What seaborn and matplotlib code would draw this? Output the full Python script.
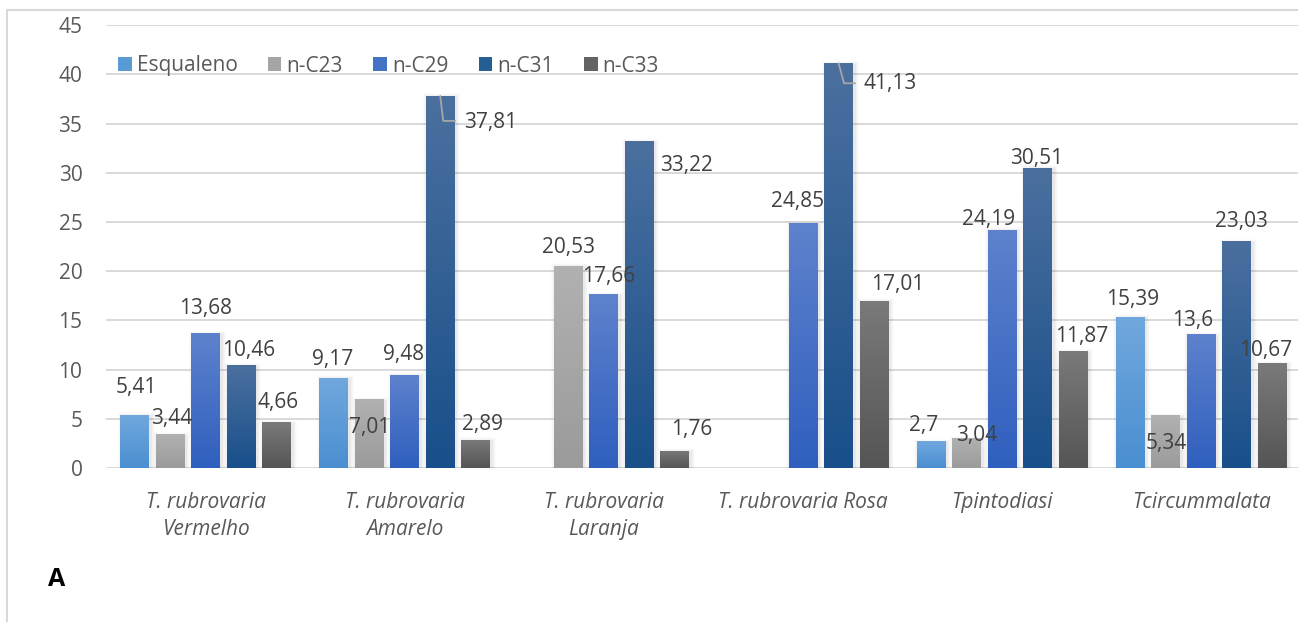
import numpy as np
import pandas as pd
import matplotlib
matplotlib.use("Agg")
import matplotlib.pyplot as plt
import seaborn as sns
from matplotlib.colors import LinearSegmentedColormap
from matplotlib.patches import Rectangle
from matplotlib.lines import Line2D

# ---- data -----------------------------------------------------------------
species = ["T. rubrovaria\nVermelho", "T. rubrovaria\nAmarelo",
           "T. rubrovaria\nLaranja", "T. rubrovaria Rosa",
           "Tpintodiasi", "Tcircummalata"]
compounds = ["Esqualeno", "n-C23", "n-C29", "n-C31", "n-C33"]

esqualeno = [5.41, 9.17, np.nan, np.nan, 2.70, 15.39]
n_c23 = [3.44, 7.01, 20.53, np.nan, 3.04, 5.34]
n_c29 = [13.68, 9.48, 17.66, 24.85, 24.19, 13.60]
n_c31 = [10.46, 37.81, 33.22, 41.13, 30.51, 23.03]
n_c33 = [4.66, 2.89, 1.76, 17.01, 11.87, 10.67]

series = [esqualeno, n_c23, n_c29, n_c31, n_c33]

# ---- styling ---------------------------------------------------------------
base_colors = ["#5b9bd5", "#a5a5a5", "#4472c4", "#255e91", "#636363"]
gradients = [("#71a8dd", "#4a8fd1"),   # (top, bottom)
             ("#b1b1b1", "#9b9b9b"),
             ("#5e82cd", "#2f5fbe"),
             ("#4b709f", "#194f8a"),
             ("#7a7a7a", "#555555")]
text_gray = "#595959"
label_gray = "#404040"
grid_gray = "#d9d9d9"

# label offsets in pixels (dx, dy-up) from the top centre of each bar
label_offsets = {
    (0, 0): (2, 27), (0, 1): (2, 16), (0, 2): (0, 25), (0, 3): (8, 15), (0, 4): (1.5, 20),
    (1, 0): (-1, 18), (1, 1): (0, -28), (1, 2): (-1, 20), (1, 3): (50, -27), (1, 4): (7, 15),
    (2, 1): (0, 18), (2, 2): (5, 18), (2, 3): (47, -24), (2, 4): (17, 21),
    (3, 2): (-6, 22), (3, 3): (52, -20), (3, 4): (24, 16),
    (4, 0): (-8, 16), (4, 1): (10, 3), (4, 2): (-14, 10), (4, 3): (-1, 9.5), (4, 4): (8, 15),
    (5, 0): (2.5, 17), (5, 1): (0, -28), (5, 2): (-8.5, 14), (5, 3): (5, 20), (5, 4): (-7, 13),
}
# leader lines (pixel offsets from bar top centre) for labels moved aside
leaders = {
    (1, 3): [(0, 0), (3, -25), (15, -25)],
    (3, 3): [(0, 0), (5.5, -20), (16.5, -20)],
}

sns.set_theme(style="white")
plt.rcParams["font.family"] = ["Open Sans", "DejaVu Sans"]

W, H = 1298, 622
fig = plt.figure(figsize=(W / 100, H / 100), dpi=100)
ax = fig.add_axes([106 / W, 1 - 468 / H, 1195 / W, 442.8 / H])

rows = []
for comp, vals in zip(compounds, series):
    for sp, v in zip(species, vals):
        rows.append({"species": sp, "compound": comp, "value": v})
df = pd.DataFrame(rows).dropna()

sns.barplot(data=df, x="species", y="value", hue="compound",
            order=species, hue_order=compounds, palette=base_colors,
            width=0.891, gap=0.183, linewidth=0, errorbar=None,
            legend=False, ax=ax, zorder=3)

ax.set_xlim(-0.5, 5.5)
ax.set_ylim(0, 45)
ax.set_yticks(np.arange(0, 46, 5))
ax.set_xlabel("")
ax.set_ylabel("")
for s in ax.spines.values():
    s.set_visible(False)
ax.yaxis.grid(True, color=grid_gray, linewidth=1.4, zorder=0)
ax.set_axisbelow(True)
ax.tick_params(axis="y", length=0, pad=17, labelsize=15, labelcolor=text_gray)
ax.tick_params(axis="x", length=0, pad=17, labelsize=15, labelcolor=text_gray)
for t in ax.get_xticklabels():
    t.set_fontstyle("italic")
    t.set_linespacing(1.4)

fig.canvas.draw()
to_disp = ax.transData.transform
to_data = ax.transData.inverted().transform


def shift(x, y, dx, dy):
    px, py = to_disp((x, y))
    return to_data((px + dx, py + dy))


# gradient fills, soft shadows, value labels
grad = np.linspace(0, 1, 256).reshape(-1, 1)
for ci, (cont, (top, bot)) in enumerate(zip(ax.containers, gradients)):
    cmap = LinearSegmentedColormap.from_list(f"g{ci}", [bot, top])
    for bar in cont:
        h = bar.get_height()
        if not np.isfinite(h) or h <= 0:
            continue
        x0, w = bar.get_x(), bar.get_width()
        xc = x0 + w / 2
        si = int(round(xc))
        # soft shadow
        for k, a in [(4, 0.012), (3, 0.018), (2, 0.024), (1, 0.03)]:
            (sx0, _) = shift(x0, 0, -k + 1.5, 0)
            (sx1, sy1) = shift(x0 + w, h, k + 1.5, k - 1.5)
            ax.add_patch(Rectangle((sx0, 0), sx1 - sx0, sy1, facecolor="black",
                                   alpha=a, linewidth=0, zorder=2))
        img = ax.imshow(grad, cmap=cmap, origin="lower", aspect="auto",
                        extent=[x0, x0 + w, 0, h], zorder=3.5,
                        interpolation="bilinear")
        img.set_clip_path(bar)
        dx, dy = label_offsets.get((si, ci), (0, 20))
        txt = f"{h:g}".replace(".", ",")
        ax.annotate(txt, xy=(xc, h), xytext=(dx, dy), textcoords="offset pixels",
                    ha="center", va="center", fontsize=15, color=label_gray,
                    zorder=6)
        if (si, ci) in leaders:
            pts = [shift(xc, h, px, py) for px, py in leaders[(si, ci)]]
            xs, ys = zip(*pts)
            ax.add_line(Line2D(xs, ys, color="#a6a6a6", linewidth=1.3, zorder=5))

ax.set_xlim(-0.5, 5.5)
ax.set_ylim(0, 45)

# legend
handles = [Rectangle((0, 0), 1, 1, facecolor=c, linewidth=0) for c in base_colors]
leg = fig.legend(handles, compounds, loc="center left",
                 bbox_to_anchor=(118 / W, 1 - 66 / H), ncol=5, frameon=False,
                 fontsize=15, handlelength=0.65, handleheight=0.65,
                 handletextpad=0.25, columnspacing=1.45, borderpad=0,
                 borderaxespad=0)
for t in leg.get_texts():
    t.set_color(text_gray)

# panel letter and outer frame
fig.text(48 / W, 1 - 579 / H, "A", fontsize=18, fontweight="bold",
         color="black", va="center", ha="left")
fig.patches.append(Rectangle((7 / W, -0.1), 1.2, 1 - 10 / H + 0.1,
                             transform=fig.transFigure, fill=False,
                             edgecolor=grid_gray, linewidth=1.5))

fig.savefig("out.png", dpi=100)
